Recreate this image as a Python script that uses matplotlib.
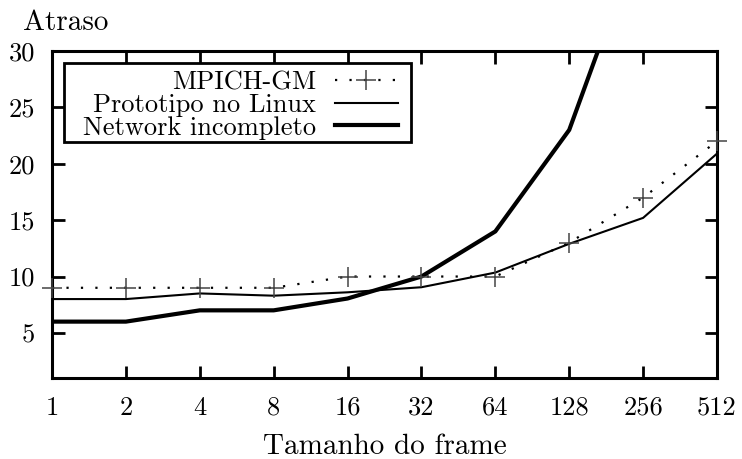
import matplotlib
matplotlib.use("Agg")
import matplotlib.pyplot as plt
from matplotlib.lines import Line2D
from matplotlib.patches import Rectangle

plt.rcParams['font.family'] = ['cmr10', 'DejaVu Serif']
plt.rcParams['axes.formatter.use_mathtext'] = True

frame_sizes = [1, 2, 4, 8, 16, 32, 64, 128, 256, 512]
tick_labels = ['1', '2', '4', '8', '16', '32', '64', '128', '256', '512']
mpich_gm = [9, 9, 9, 9, 10, 10, 10, 13, 17, 22]
prototipo = [8, 8, 8.5, 8.3, 8.6, 9.05, 10.35, 12.9, 15.2, 20.9]
network = [6, 6, 7, 7, 8.05, 10, 14, 23, 41]
network_x = frame_sizes[:9]
y_ticks = [5, 10, 15, 20, 25, 30]

FS = 19
FL = 21
fig = plt.figure(figsize=(7.42, 4.59), dpi=100)
ax = fig.add_axes([52/742, 1-378/459, (717-52)/742, (378-51)/459])

dot_style = (0, (1, 5.5))
ax.plot(frame_sizes, mpich_gm, color='black', lw=1.6, linestyle=dot_style, zorder=2)
ax.plot(frame_sizes, mpich_gm, linestyle='none', marker='+', markersize=15,
        markeredgewidth=1.1, color='#444444', zorder=3, clip_on=False)
ax.plot(frame_sizes, prototipo, color='black', lw=1.5, zorder=2)
ax.plot(network_x, network, color='black', lw=3.0, zorder=2)

ax.set_xscale('log', base=2)
ax.set_xlim(1, 512)
ax.set_ylim(1, 30)
ax.set_xticks(frame_sizes)
ax.set_xticklabels(tick_labels)
ax.set_yticks(y_ticks)
ax.set_yticklabels([str(v) for v in y_ticks])
ax.minorticks_off()
ax.tick_params(direction='in', length=9, width=2, top=True, right=True,
               labelsize=FS, pad=12)
ax.tick_params(axis='x', pad=13)
for s in ax.spines.values():
    s.set_linewidth(2.2)

ax.set_xlabel('Tamanho do frame', fontsize=FL, labelpad=10)
fig.text(66/742, 1-23/459, 'Atraso', fontsize=FL, ha='center', va='center')

# legend frame
frame = Rectangle((64/742, 1-142/459), 347/742, 79/459, transform=fig.transFigure,
                  facecolor='white', edgecolor='black', lw=2, clip_on=False, zorder=4)
ax.add_artist(frame)

handles = [
    Line2D([], [], color='black', lw=1.6, linestyle=dot_style, marker='+',
           markersize=15, markeredgewidth=1.1, markeredgecolor='#444444', markevery=[1]),
    Line2D([], [], color='black', lw=1.5),
    Line2D([], [], color='black', lw=3.0),
]
labels = ['MPICH-GM', 'Prototipo no Linux', 'Network incompleto']
leg = ax.legend(handles, labels, loc='upper right', bbox_to_anchor=(398/742, 1-71/459),
                bbox_transform=fig.transFigure, borderaxespad=0, markerfirst=False,
                fontsize=FS, handlelength=2.4, handletextpad=0.7, labelspacing=-0.05,
                borderpad=0, frameon=False)
leg.set_zorder(5)

fig.savefig('out.png', dpi=100)
